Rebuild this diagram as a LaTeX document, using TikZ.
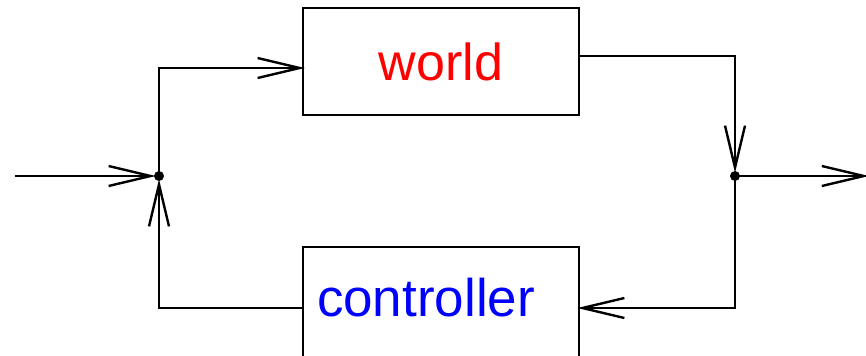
\documentclass[tikz,border=0pt]{standalone}
\usepackage{fontspec}
\setmainfont{Liberation Sans}
\usetikzlibrary{arrows.meta}

\begin{document}
\begin{tikzpicture}[x=0.5pt, y=-0.5pt, line width=1.2pt,
    box/.style={draw, rectangle, minimum width=138pt, inner sep=0pt},
    dot/.style={circle, fill, inner sep=0pt, minimum size=5pt},
    barb/.style={-{Straight Barb[length=21pt, width=10pt]}, shorten >=-1.5pt}]
        \useasboundingbox (0,0) rectangle (866,355);
        \node[box, minimum height=53.5pt, text=red] (world) at (441, 61.5) {\fontsize{26}{30}\selectfont world};
        \node[box, minimum height=56pt, text=blue, text width=124pt, align=left, inner xsep=7pt, text height=19.3pt, text depth=6pt] (controller) at (441, 303) {\fontsize{26.5}{30}\selectfont controller};
        \node[dot] (sum) at (159, 176) {};
        \node[dot] (split) at (735, 176) {};
        \coordinate (in) at (15, 176);
        \coordinate (out) at (866, 176);

        \draw[barb] (in) -- (sum);
        \draw[barb] (sum.center) |- ([yshift=-3.25pt]world.west);
        \draw[barb] ([yshift=2.75pt]world.east) -| (split);
        \draw[barb] (split.center) -- (out);
        \draw[barb] (split.center) |- ([yshift=-2.5pt]controller.east);
        \draw[barb] ([yshift=-2.5pt]controller.west) -| (sum);
    \end{tikzpicture}
\end{document}
